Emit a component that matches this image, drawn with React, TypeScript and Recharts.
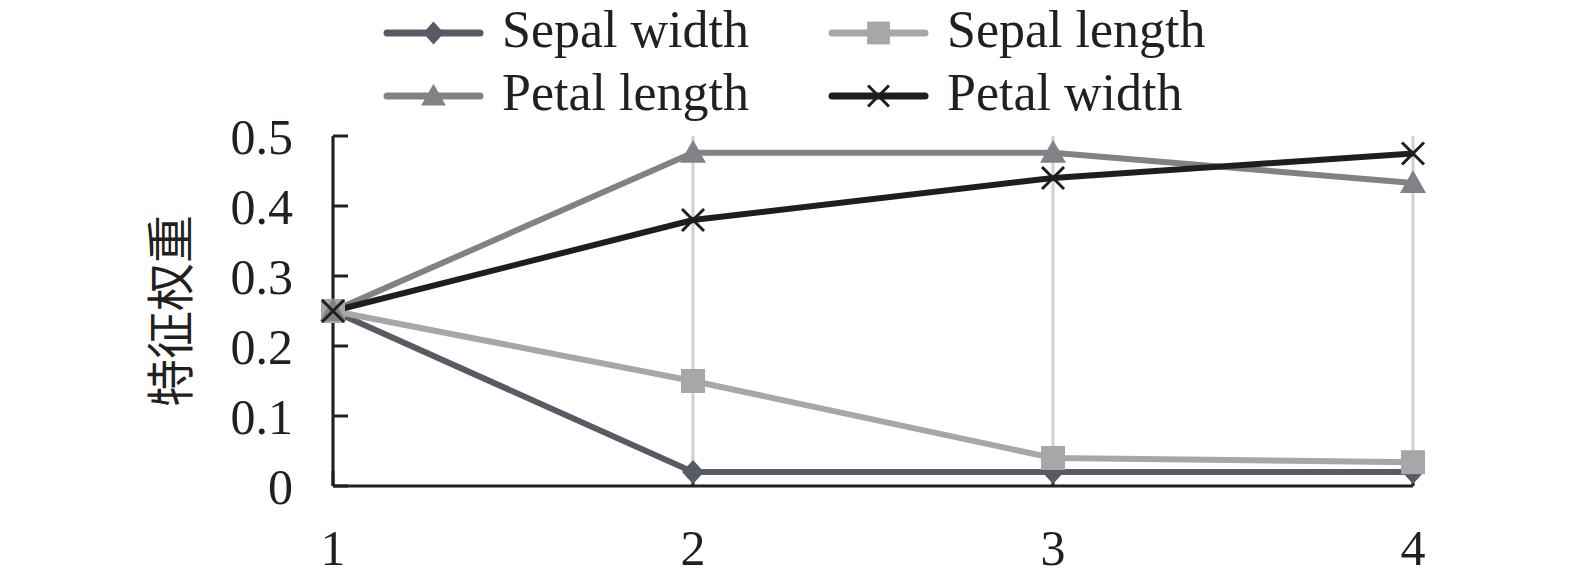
import { CartesianGrid, Legend, Line, LineChart, XAxis, YAxis } from "recharts";

const steps = [1, 2, 3, 4];
const sepalWidth = [0.25, 0.02, 0.02, 0.02];
const sepalLength = [0.25, 0.15, 0.04, 0.034];
const petalLength = [0.25, 0.476, 0.476, 0.433];
const petalWidth = [0.25, 0.38, 0.44, 0.475];
const yTicks = [0, 0.1, 0.2, 0.3, 0.4, 0.5];

const data = steps.map((x, i) => ({
  x,
  sepalWidth: sepalWidth[i],
  sepalLength: sepalLength[i],
  petalLength: petalLength[i],
  petalWidth: petalWidth[i],
}));

const serif = "'Liberation Serif', 'Times New Roman', serif";
const ink = "#231f20";

type Shape = "diamond" | "square" | "triangle" | "cross";

const series: { key: string; name: string; color: string; shape: Shape }[] = [
  { key: "sepalWidth", name: "Sepal width", color: "#575b63", shape: "diamond" },
  { key: "sepalLength", name: "Sepal length", color: "#a7a7a9", shape: "square" },
  { key: "petalLength", name: "Petal length", color: "#818286", shape: "triangle" },
  { key: "petalWidth", name: "Petal width", color: "#1e1e1e", shape: "cross" },
];

function Marker({ cx, cy, shape, color, s = 1 }: { cx: number; cy: number; shape: Shape; color: string; s?: number }) {
  if (shape === "diamond")
    return <polygon points={`${cx},${cy - 12 * s} ${cx + 11 * s},${cy} ${cx},${cy + 12 * s} ${cx - 11 * s},${cy}`} fill={color} />;
  if (shape === "square")
    return <rect x={cx - 12 * s} y={cy - 12 * s} width={24 * s} height={24 * s} fill={color} />;
  if (shape === "triangle")
    return <polygon points={`${cx},${cy - 13 * s} ${cx + 13 * s},${cy + 10 * s} ${cx - 13 * s},${cy + 10 * s}`} fill={color} />;
  const a = 11 * s;
  return (
    <g stroke={color} strokeWidth={3}>
      <line x1={cx - a} y1={cy - a} x2={cx + a} y2={cy + a} />
      <line x1={cx - a} y1={cy + a} x2={cx + a} y2={cy - a} />
    </g>
  );
}

// legend laid out as 2x2, like the source figure
const legendCols = [379, 824];
const legendRows = [25, 88];

function renderLegend() {
  return (
    <svg width={1559} height={120} style={{ display: "block", overflow: "visible" }}>
      {series.map((s, i) => {
        const x = legendCols[i % 2];
        const y = legendRows[Math.floor(i / 2)];
        return (
          <g key={s.key}>
            <line x1={x} y1={y} x2={x + 93} y2={y} stroke={s.color} strokeWidth={7} strokeLinecap="round" />
            <Marker cx={x + 46.5} cy={y} shape={s.shape} color={s.color} s={0.95} />
            <text x={x + 115} y={y + 14} fontFamily={serif} fontSize={52} fill={ink}>
              {s.name}
            </text>
          </g>
        );
      })}
    </svg>
  );
}

export default function App() {
  return (
    <LineChart width={1559} height={573} data={data} margin={{ top: 8, right: 154, bottom: 0, left: 0 }}>
      <Legend
        verticalAlign="top"
        content={renderLegend}
        wrapperStyle={{ top: 0, left: 0, width: 1559, height: 120 }}
      />
      <CartesianGrid horizontal={false} stroke="#d0d0d0" strokeWidth={3} />
      <XAxis
        type="number"
        dataKey="x"
        domain={[1, 4]}
        ticks={steps}
        height={95}
        axisLine={{ stroke: ink, strokeWidth: 3 }}
        tickLine={{ stroke: ink, strokeWidth: 3 }}
        tickSize={-15}
        tickMargin={58}
        tick={{ fill: ink, fontSize: 50, fontFamily: serif }}
      />
      <YAxis
        domain={[0, 0.5]}
        ticks={yTicks}
        width={325}
        axisLine={{ stroke: ink, strokeWidth: 3 }}
        tickLine={{ stroke: ink, strokeWidth: 3 }}
        tickSize={-15}
        tickMargin={55}
        tick={{ fill: ink, fontSize: 50, fontFamily: serif }}
        label={{
          value: "特征权重",
          angle: -90,
          position: "center",
          fill: ink,
          fontSize: 48,
          fontFamily: "'Noto Sans CJK SC', sans-serif",
        }}
      />
      {series.map((s) => (
        <Line
          key={s.key}
          type="linear"
          dataKey={s.key}
          name={s.name}
          stroke={s.color}
          strokeWidth={6}
          isAnimationActive={false}
          dot={(p: any) => <Marker key={`${s.key}-${p.index}`} cx={p.cx} cy={p.cy} shape={s.shape} color={s.color} />}
          activeDot={false}
        />
      ))}
    </LineChart>
  );
}
